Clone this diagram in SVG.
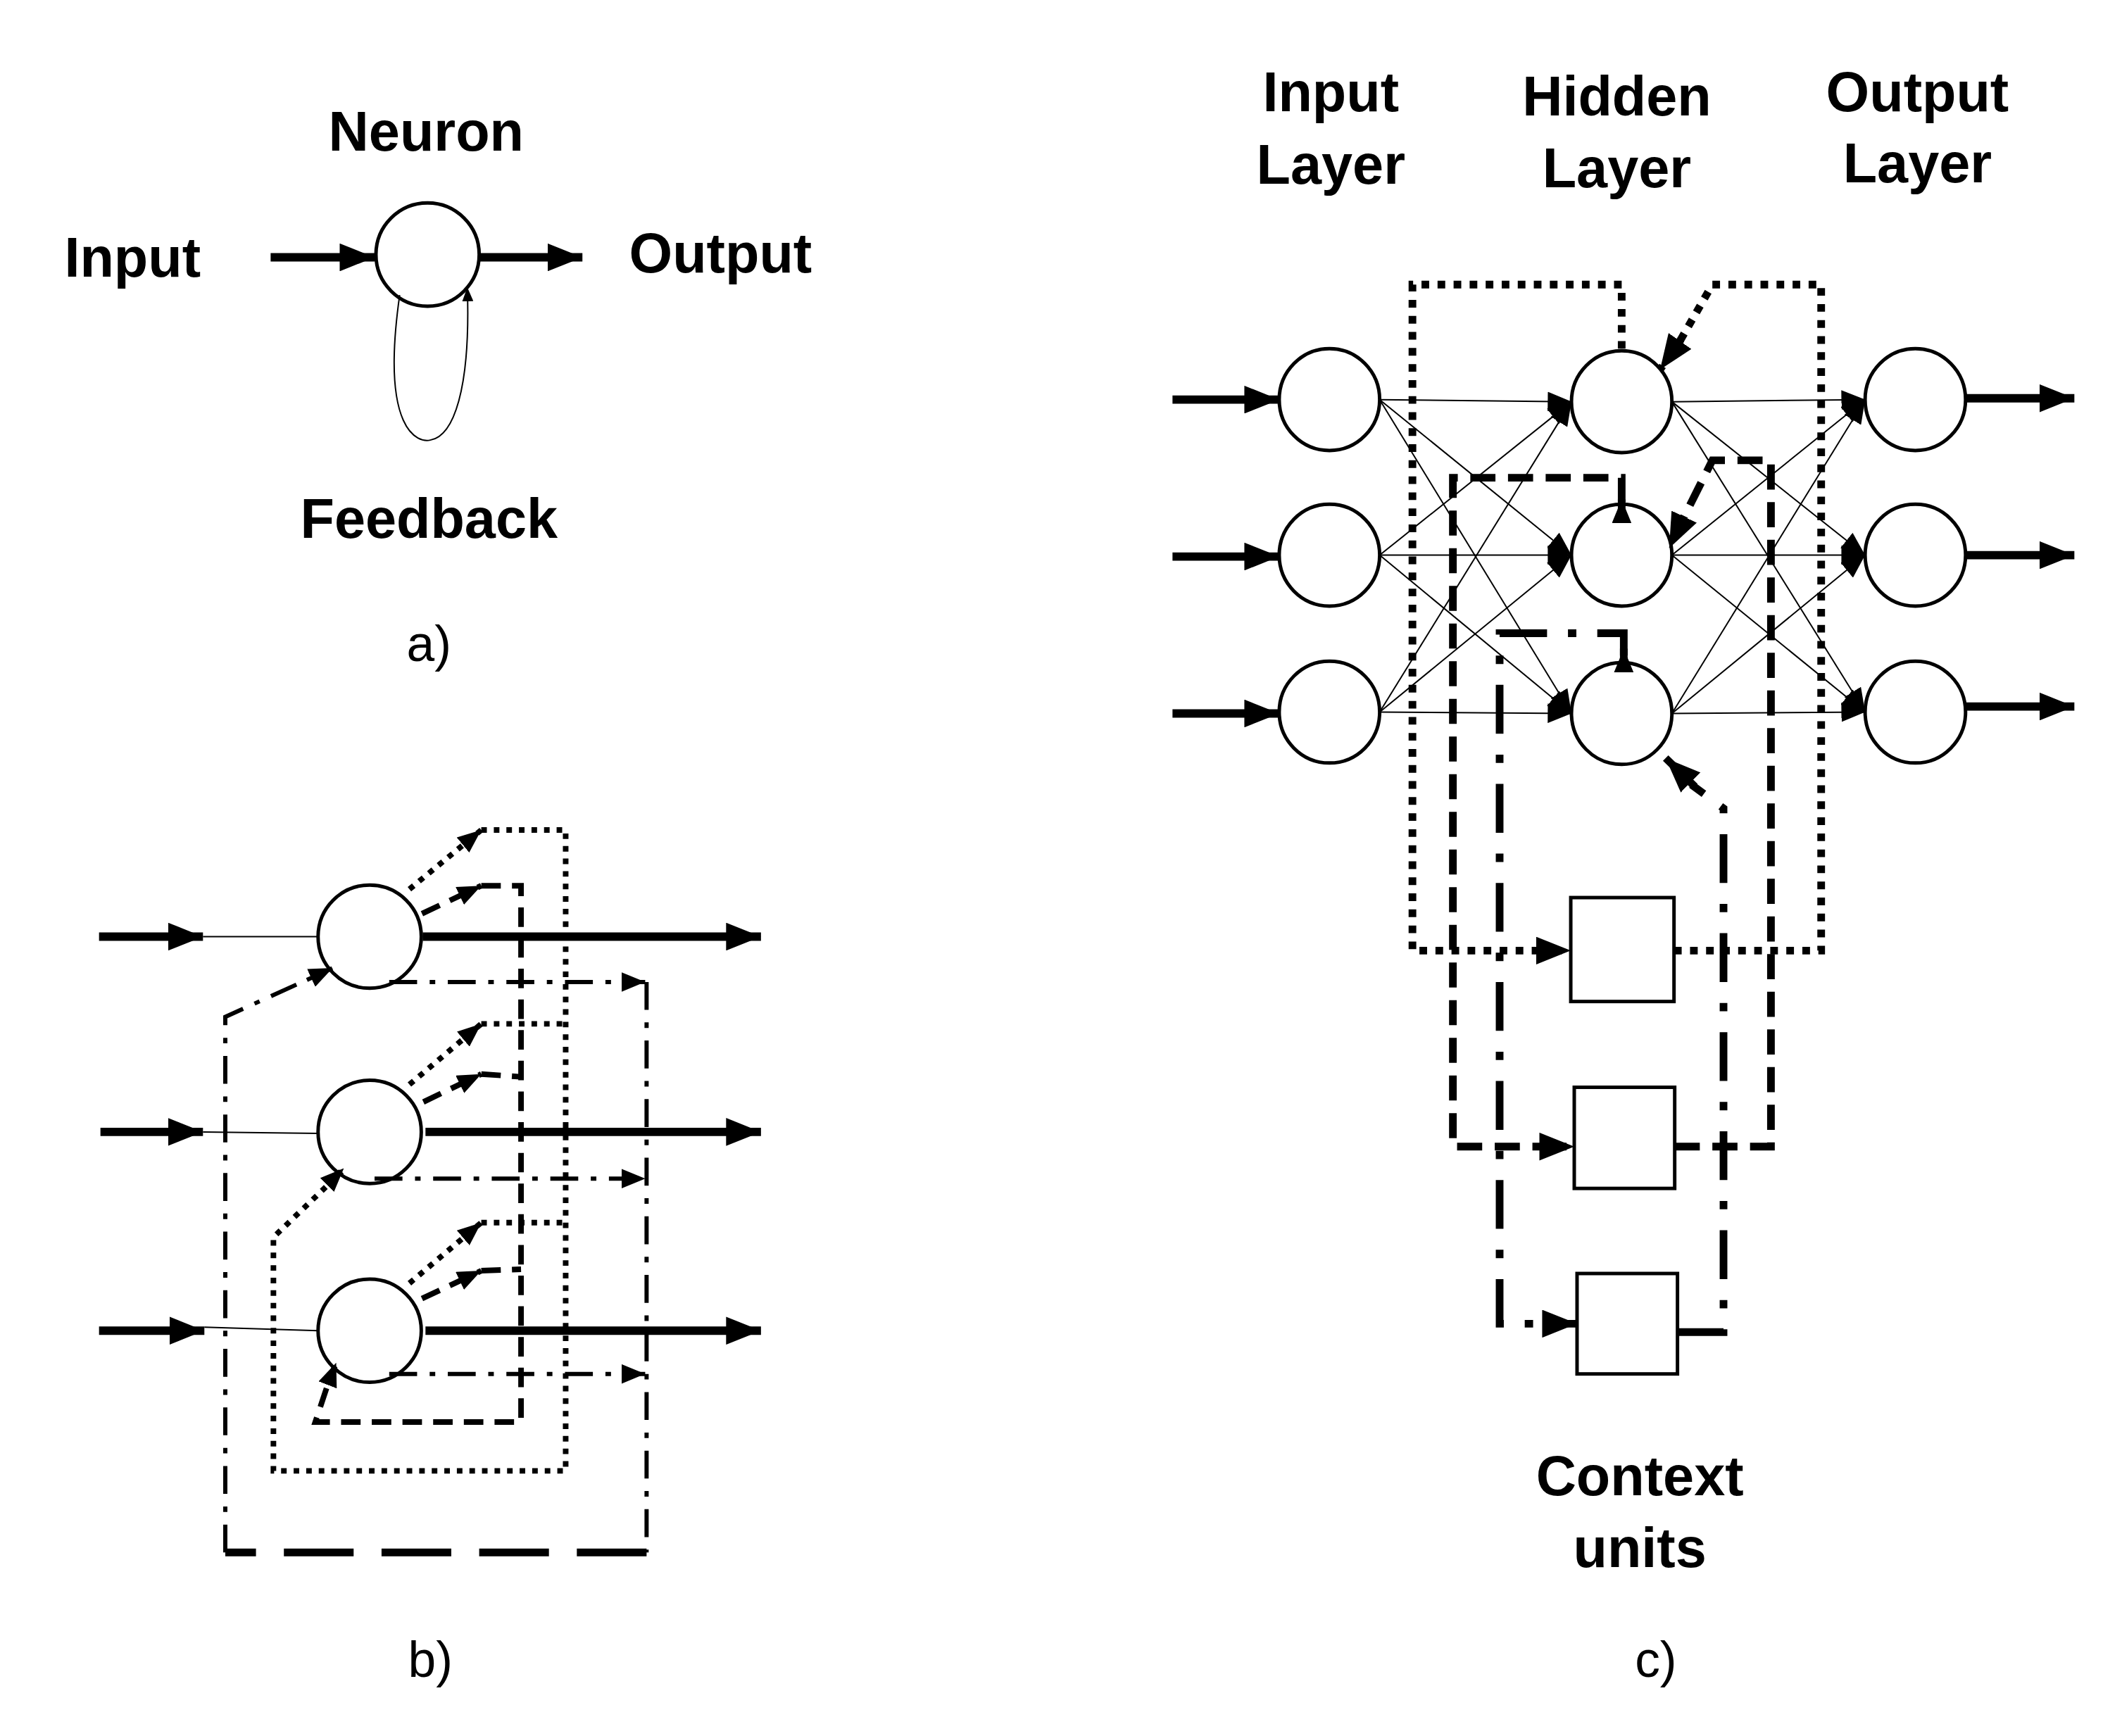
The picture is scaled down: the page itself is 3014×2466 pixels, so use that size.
<svg xmlns="http://www.w3.org/2000/svg" width="3014" height="2466" viewBox="0 0 3014 2466">
<style>
.t{font-family:"Liberation Sans",Arial,sans-serif;font-weight:bold;font-size:80px;text-anchor:middle;fill:#000}
.r{font-family:"Liberation Sans",Arial,sans-serif;font-size:72px;text-anchor:middle;fill:#000}
.n{fill:#fff;stroke:#000;stroke-width:5}
.thick{stroke:#000;stroke-width:12;fill:none}
.thin{stroke:#000;stroke-width:2;fill:none}
.dot{stroke:#000;stroke-width:8;fill:none;stroke-dasharray:8 10}
.dotc{stroke:#000;stroke-width:11;fill:none;stroke-dasharray:11 12}
.dash{stroke:#000;stroke-width:8;fill:none;stroke-dasharray:28 16}
.dashc{stroke:#000;stroke-width:11;fill:none;stroke-dasharray:36 18}
.dd{stroke:#000;stroke-width:6;fill:none;stroke-dasharray:40 18 8 18}
.ddc{stroke:#000;stroke-width:11;fill:none;stroke-dasharray:70 30 12 30}
.ld{stroke:#000;stroke-width:11;fill:none;stroke-dasharray:100 40}
</style>
<defs>
<marker id="a" markerUnits="userSpaceOnUse" markerWidth="50" markerHeight="40" refX="50" refY="20" orient="auto"><path d="M0,0L50,20L0,40z"/></marker>
<marker id="s" markerUnits="userSpaceOnUse" markerWidth="34" markerHeight="28" refX="34" refY="14" orient="auto"><path d="M0,0L34,14L0,28z"/></marker>
<marker id="f" markerUnits="userSpaceOnUse" markerWidth="20" markerHeight="16" refX="20" refY="8" orient="auto"><path d="M0,0L20,8L0,16z"/></marker>
</defs>
<g transform="scale(0.9907)">
<!-- a) -->
<g id="a-labels">
<text class="t" x="611" y="216">Neuron</text>
<text class="t" x="190" y="397">Input</text>
<text class="t" x="1033" y="391">Output</text>
<text class="t" x="615" y="771">Feedback</text>
<text class="r" x="615" y="948">a)</text>
</g>
<g id="a-neuron"><circle class="n" cx="613" cy="365" r="74"/></g>
<g id="a-connectors">
<line class="thick" x1="388" y1="369" x2="537" y2="369" marker-end="url(#a)"/>
<line class="thick" x1="687" y1="369" x2="835" y2="369" marker-end="url(#a)"/>
<path class="thin" d="M573,423 C545,620 600,635 617,631 C650,625 675,560 670,412" marker-end="url(#f)"/>
</g>

<!-- b) -->
<g id="b-nodes">
<circle class="n" cx="530" cy="1343" r="74"/>
<circle class="n" cx="530" cy="1623" r="74"/>
<circle class="n" cx="530" cy="1908" r="74"/>
</g>
<g id="b-connectors">
<line class="thick" x1="142" y1="1343" x2="291" y2="1343" marker-end="url(#a)"/>
<line class="thin" x1="291" y1="1343" x2="456" y2="1343"/>
<line class="thick" x1="144" y1="1623" x2="291" y2="1623" marker-end="url(#a)"/>
<line class="thin" x1="291" y1="1623" x2="456" y2="1625"/>
<line class="thick" x1="142" y1="1908" x2="293" y2="1908" marker-end="url(#a)"/>
<line class="thin" x1="293" y1="1903" x2="456" y2="1908"/>
<line class="thick" x1="606" y1="1343" x2="1091" y2="1343" marker-end="url(#a)"/>
<line class="thick" x1="610" y1="1623" x2="1091" y2="1623" marker-end="url(#a)"/>
<line class="thick" x1="610" y1="1908" x2="1091" y2="1908" marker-end="url(#a)"/>
<!-- dotted -->
<line class="dot" x1="587" y1="1275" x2="690" y2="1190" marker-end="url(#s)"/>
<line class="dot" x1="587" y1="1555" x2="690" y2="1468" marker-end="url(#s)"/>
<line class="dot" x1="587" y1="1840" x2="690" y2="1753" marker-end="url(#s)"/>
<path class="dot" d="M690,1190H811V2109H392V1774L490,1680"/>
<line class="dot" x1="470" y1="1698" x2="493" y2="1675" marker-end="url(#s)"/>
<line class="dot" x1="690" y1="1468" x2="811" y2="1468"/>
<line class="dot" x1="690" y1="1753" x2="811" y2="1753"/>
<!-- dashed -->
<line class="dash" x1="605" y1="1310" x2="690" y2="1270" marker-end="url(#s)"/>
<line class="dash" x1="607" y1="1580" x2="690" y2="1540" marker-end="url(#s)"/>
<line class="dash" x1="605" y1="1862" x2="690" y2="1822" marker-end="url(#s)"/>
<path class="dash" d="M690,1270H747V2039H452L470,1985"/>
<line class="dash" x1="470" y1="1985" x2="482" y2="1954" marker-end="url(#s)"/>
<line class="dash" x1="690" y1="1540" x2="747" y2="1544"/>
<line class="dash" x1="690" y1="1822" x2="747" y2="1820"/>
<!-- dash-dot -->
<line class="dd" x1="558" y1="1408" x2="925" y2="1408" marker-end="url(#s)"/>
<line class="dd" x1="537" y1="1690" x2="925" y2="1690" marker-end="url(#s)"/>
<line class="dd" x1="558" y1="1970" x2="925" y2="1970" marker-end="url(#s)"/>
<path class="dd" d="M927,1408V2226"/>
<path class="ld" d="M927,2226H323"/>
<path class="dd" d="M323,2226V1458L440,1405"/>
<line class="dd" x1="440" y1="1405" x2="477" y2="1388" marker-end="url(#s)"/>
</g>
<g id="b-label"><text class="r" x="617" y="2404">b)</text></g>

<!-- c) -->
<g id="c-labels">
<text class="t" x="1908" y="160">Input</text>
<text class="t" x="1908" y="263">Layer</text>
<text class="t" x="2318" y="166">Hidden</text>
<text class="t" x="2318" y="269">Layer</text>
<text class="t" x="2749" y="160">Output</text>
<text class="t" x="2749" y="261">Layer</text>
<text class="t" x="2351" y="2144">Context</text>
<text class="t" x="2351" y="2247">units</text>
<text class="r" x="2374" y="2404">c)</text>
</g>
<g id="c-input">
<ellipse class="n" cx="1906" cy="573" rx="72" ry="73"/>
<ellipse class="n" cx="1906" cy="796" rx="72" ry="73"/>
<ellipse class="n" cx="1906" cy="1021" rx="72" ry="73"/>
</g>
<g id="c-hidden">
<ellipse class="n" cx="2325" cy="576" rx="72" ry="73"/>
<ellipse class="n" cx="2325" cy="796" rx="72" ry="73"/>
<ellipse class="n" cx="2325" cy="1023" rx="72" ry="73"/>
</g>
<g id="c-output">
<ellipse class="n" cx="2746" cy="573" rx="72" ry="73"/>
<ellipse class="n" cx="2746" cy="796" rx="72" ry="73"/>
<ellipse class="n" cx="2746" cy="1021" rx="72" ry="73"/>
</g>
<g id="c-context">
<rect class="n" x="2252" y="1287" width="148" height="149"/>
<rect class="n" x="2257" y="1559" width="144" height="145"/>
<rect class="n" x="2261" y="1826" width="144" height="144"/>
</g>
<g id="c-connectors">
<line class="thick" x1="1681" y1="573" x2="1834" y2="573" marker-end="url(#a)"/>
<line class="thick" x1="1681" y1="798" x2="1834" y2="798" marker-end="url(#a)"/>
<line class="thick" x1="1681" y1="1023" x2="1834" y2="1023" marker-end="url(#a)"/>
<line class="thick" x1="2818" y1="571" x2="2974" y2="571" marker-end="url(#a)"/>
<line class="thick" x1="2818" y1="796" x2="2974" y2="796" marker-end="url(#a)"/>
<line class="thick" x1="2818" y1="1013" x2="2974" y2="1013" marker-end="url(#a)"/>
<g class="thin">
<line x1="1978" y1="573" x2="2253" y2="576" marker-end="url(#s)"/>
<line x1="1978" y1="573" x2="2253" y2="796" marker-end="url(#s)"/>
<line x1="1978" y1="573" x2="2253" y2="1023" marker-end="url(#s)"/>
<line x1="1978" y1="796" x2="2253" y2="576" marker-end="url(#s)"/>
<line x1="1978" y1="796" x2="2253" y2="796" marker-end="url(#s)"/>
<line x1="1978" y1="796" x2="2253" y2="1023" marker-end="url(#s)"/>
<line x1="1978" y1="1021" x2="2253" y2="576" marker-end="url(#s)"/>
<line x1="1978" y1="1021" x2="2253" y2="796" marker-end="url(#s)"/>
<line x1="1978" y1="1021" x2="2253" y2="1023" marker-end="url(#s)"/>
<line x1="2397" y1="576" x2="2674" y2="573" marker-end="url(#s)"/>
<line x1="2397" y1="576" x2="2674" y2="796" marker-end="url(#s)"/>
<line x1="2397" y1="576" x2="2674" y2="1021" marker-end="url(#s)"/>
<line x1="2397" y1="796" x2="2674" y2="573" marker-end="url(#s)"/>
<line x1="2397" y1="796" x2="2674" y2="796" marker-end="url(#s)"/>
<line x1="2397" y1="796" x2="2674" y2="1021" marker-end="url(#s)"/>
<line x1="2397" y1="1023" x2="2674" y2="573" marker-end="url(#s)"/>
<line x1="2397" y1="1023" x2="2674" y2="796" marker-end="url(#s)"/>
<line x1="2397" y1="1023" x2="2674" y2="1021" marker-end="url(#s)"/>
</g>
<!-- dotted loop -->
<path class="dotc" d="M2325,500V408H2025V1363H2210"/>
<line class="dotc" x1="2205" y1="1363" x2="2252" y2="1363" marker-end="url(#a)"/>
<path class="dotc" d="M2400,1363H2611V408H2455L2405,495"/>
<line class="dotc" x1="2410" y1="487" x2="2380" y2="530" marker-end="url(#a)"/>
<!-- dashed loop -->
<path class="dashc" d="M2325,720V685H2083V1644H2215"/>
<line class="dashc" x1="2210" y1="1644" x2="2257" y2="1644" marker-end="url(#a)"/>
<line class="dashc" x1="2325" y1="735" x2="2325" y2="716" marker-end="url(#s)"/>
<path class="dashc" d="M2401,1644H2539V660H2455L2410,750"/>
<line class="dashc" x1="2415" y1="740" x2="2393" y2="786" marker-end="url(#a)"/>
<!-- dash-dot loop -->
<path class="ddc" d="M2328,940V908H2150V1898H2220"/>
<line class="ddc" x1="2215" y1="1898" x2="2261" y2="1898" marker-end="url(#a)"/>
<line class="ddc" x1="2328" y1="952" x2="2328" y2="930" marker-end="url(#s)"/>
<path class="ddc" d="M2405,1910H2471V1159L2425,1125"/>
<line class="ddc" x1="2430" y1="1128" x2="2388" y2="1087" marker-end="url(#a)"/>
</g>
</g>
</svg>
